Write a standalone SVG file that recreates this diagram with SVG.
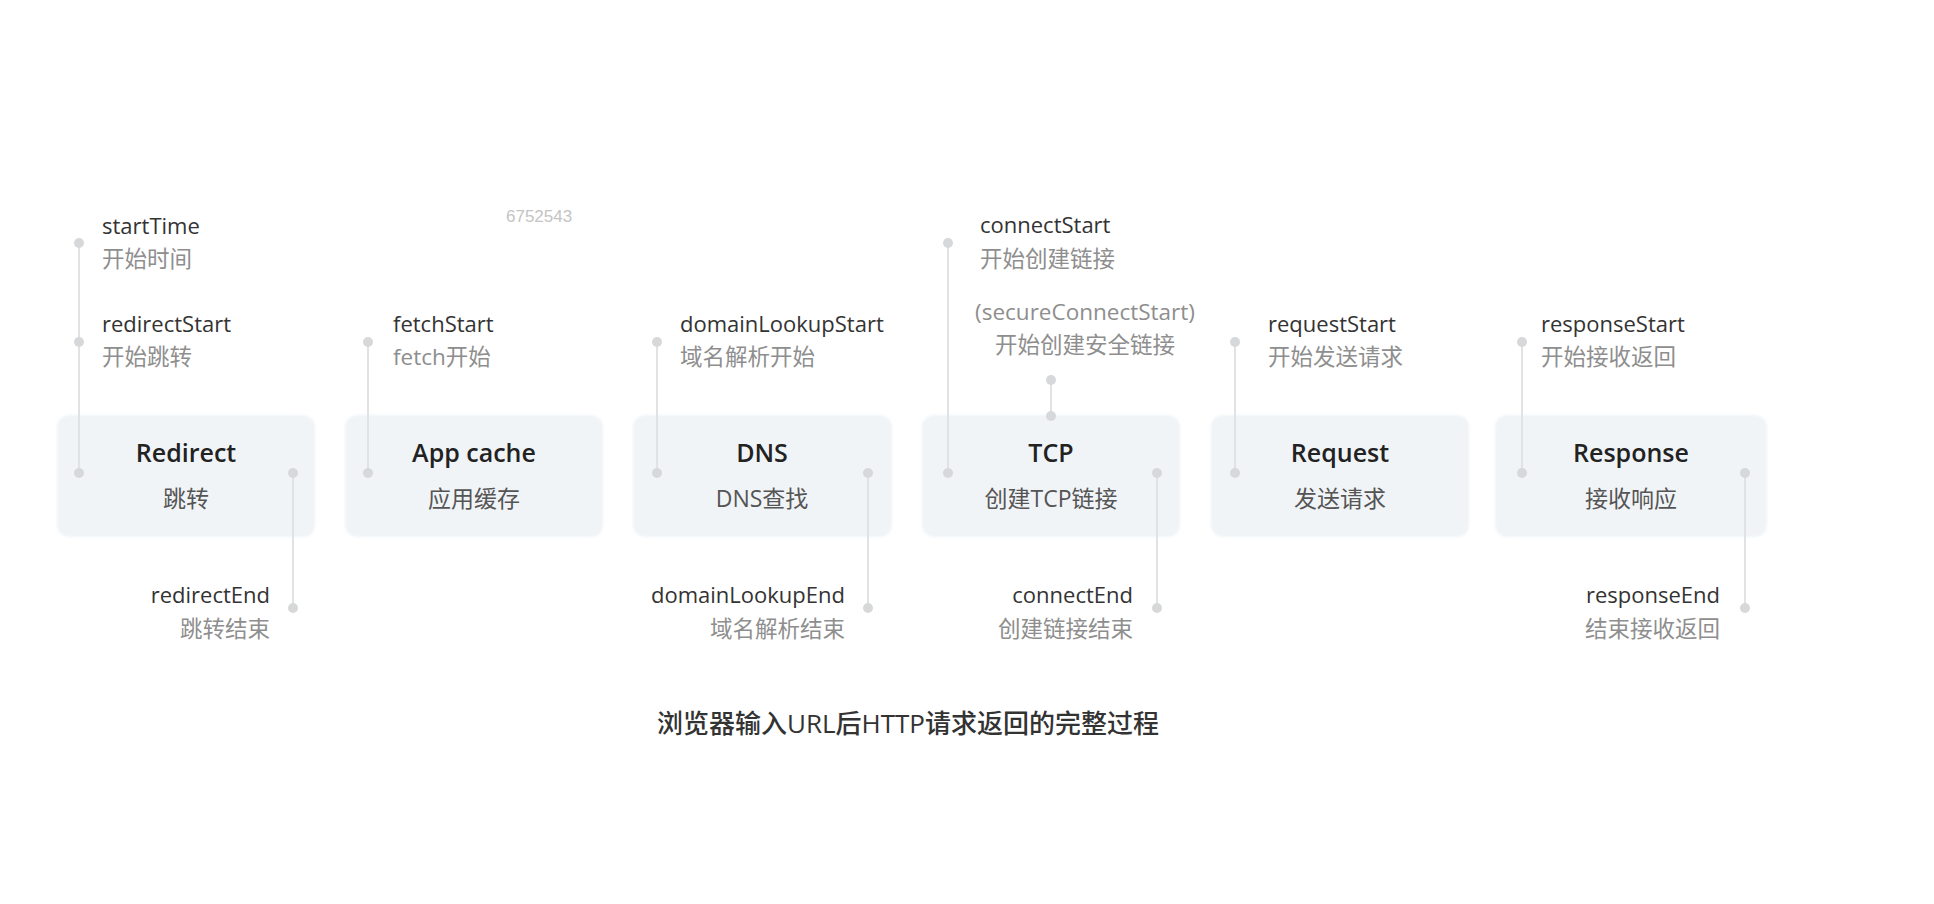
<svg xmlns="http://www.w3.org/2000/svg" width="1934" height="904" viewBox="0 0 1934 904">
<defs>
<filter id="soft" x="-5%" y="-10%" width="110%" height="120%">
<feGaussianBlur stdDeviation="1.2"/>
</filter>
<style>
.box{fill:#f1f4f7;}
.title{font-family:"Open Sans","Noto Sans CJK SC",sans-serif;font-size:25px;font-weight:600;fill:#222;text-anchor:middle;}
.sub{font-family:"Open Sans","Noto Sans CJK SC",sans-serif;font-size:23px;fill:#555;text-anchor:middle;}
.en{font-family:"Open Sans","Noto Sans CJK SC",sans-serif;font-size:22px;fill:#333;}
.zh{font-family:"Open Sans","Noto Sans CJK SC",sans-serif;font-size:22.5px;fill:#8e8e8e;}
.end{text-anchor:end;}
.mid{text-anchor:middle;}
.line{stroke:#e0e2e4;stroke-width:2;fill:none;}
.dot{fill:#d6d8da;}
.cap{font-family:"Open Sans","Noto Sans CJK SC",sans-serif;font-size:26px;font-weight:500;fill:#333;text-anchor:middle;}
.wm{font-family:"Liberation Sans","Noto Sans",sans-serif;font-size:17px;fill:#c4c4c4;}
</style>
</defs>
<rect width="1934" height="904" fill="#ffffff"/>

<g id="node-redirect">
<rect class="box" x="57" y="415" width="258" height="122" rx="12" filter="url(#soft)"/>
<text class="title" x="186" y="462">Redirect</text>
<text class="sub" x="186" y="507">跳转</text>
</g>
<g id="node-appcache">
<rect class="box" x="345" y="415" width="258" height="122" rx="12" filter="url(#soft)"/>
<text class="title" x="474" y="462">App cache</text>
<text class="sub" x="474" y="507">应用缓存</text>
</g>
<g id="node-dns">
<rect class="box" x="633" y="415" width="259" height="122" rx="12" filter="url(#soft)"/>
<text class="title" x="762" y="462">DNS</text>
<text class="sub" x="762" y="507">DNS查找</text>
</g>
<g id="node-tcp">
<rect class="box" x="922" y="415" width="258" height="122" rx="12" filter="url(#soft)"/>
<text class="title" x="1051" y="462">TCP</text>
<text class="sub" x="1051" y="507">创建TCP链接</text>
</g>
<g id="node-request">
<rect class="box" x="1211" y="415" width="258" height="122" rx="12" filter="url(#soft)"/>
<text class="title" x="1340" y="462">Request</text>
<text class="sub" x="1340" y="507">发送请求</text>
</g>
<g id="node-response">
<rect class="box" x="1495" y="415" width="272" height="122" rx="12" filter="url(#soft)"/>
<text class="title" x="1631" y="462">Response</text>
<text class="sub" x="1631" y="507">接收响应</text>
</g>

<g id="connectors">
<line class="line" x1="79" y1="243" x2="79" y2="473"/>
<line class="line" x1="293" y1="473" x2="293" y2="608"/>
<line class="line" x1="368" y1="342" x2="368" y2="473"/>
<line class="line" x1="657" y1="342" x2="657" y2="473"/>
<line class="line" x1="868" y1="473" x2="868" y2="608"/>
<line class="line" x1="948" y1="243" x2="948" y2="473"/>
<line class="line" x1="1051" y1="380" x2="1051" y2="416"/>
<line class="line" x1="1157" y1="473" x2="1157" y2="608"/>
<line class="line" x1="1235" y1="342" x2="1235" y2="473"/>
<line class="line" x1="1522" y1="342" x2="1522" y2="473"/>
<line class="line" x1="1745" y1="473" x2="1745" y2="608"/>
<circle class="dot" cx="79" cy="243" r="5"/>
<circle class="dot" cx="79" cy="342" r="5"/>
<circle class="dot" cx="79" cy="473" r="5"/>
<circle class="dot" cx="293" cy="473" r="5"/>
<circle class="dot" cx="293" cy="608" r="5"/>
<circle class="dot" cx="368" cy="342" r="5"/>
<circle class="dot" cx="368" cy="473" r="5"/>
<circle class="dot" cx="657" cy="342" r="5"/>
<circle class="dot" cx="657" cy="473" r="5"/>
<circle class="dot" cx="868" cy="473" r="5"/>
<circle class="dot" cx="868" cy="608" r="5"/>
<circle class="dot" cx="948" cy="243" r="5"/>
<circle class="dot" cx="948" cy="473" r="5"/>
<circle class="dot" cx="1051" cy="380" r="5"/>
<circle class="dot" cx="1051" cy="416" r="5"/>
<circle class="dot" cx="1157" cy="473" r="5"/>
<circle class="dot" cx="1157" cy="608" r="5"/>
<circle class="dot" cx="1235" cy="342" r="5"/>
<circle class="dot" cx="1235" cy="473" r="5"/>
<circle class="dot" cx="1522" cy="342" r="5"/>
<circle class="dot" cx="1522" cy="473" r="5"/>
<circle class="dot" cx="1745" cy="473" r="5"/>
<circle class="dot" cx="1745" cy="608" r="5"/>
</g>

<g id="labels">
<text class="en" x="102" y="234">startTime</text>
<text class="zh" x="102" y="267">开始时间</text>
<text class="en" x="102" y="332">redirectStart</text>
<text class="zh" x="102" y="365">开始跳转</text>
<text class="en end" x="270" y="603">redirectEnd</text>
<text class="zh end" x="270" y="637">跳转结束</text>
<text class="en" x="393" y="332">fetchStart</text>
<text class="zh" x="393" y="365">fetch开始</text>
<text class="en" x="680" y="332">domainLookupStart</text>
<text class="zh" x="680" y="365">域名解析开始</text>
<text class="en end" x="845" y="603">domainLookupEnd</text>
<text class="zh end" x="845" y="637">域名解析结束</text>
<text class="en" x="980" y="233">connectStart</text>
<text class="zh" x="980" y="267">开始创建链接</text>
<text class="zh mid" x="1085" y="320">(secureConnectStart)</text>
<text class="zh mid" x="1085" y="353">开始创建安全链接</text>
<text class="en end" x="1133" y="603">connectEnd</text>
<text class="zh end" x="1133" y="637">创建链接结束</text>
<text class="en" x="1268" y="332">requestStart</text>
<text class="zh" x="1268" y="365">开始发送请求</text>
<text class="en" x="1541" y="332">responseStart</text>
<text class="zh" x="1541" y="365">开始接收返回</text>
<text class="en end" x="1720" y="603">responseEnd</text>
<text class="zh end" x="1720" y="637">结束接收返回</text>
</g>

<text class="wm" x="506" y="222">6752543</text>
<text class="cap" x="908" y="733">浏览器输入URL后HTTP请求返回的完整过程</text>
</svg>
